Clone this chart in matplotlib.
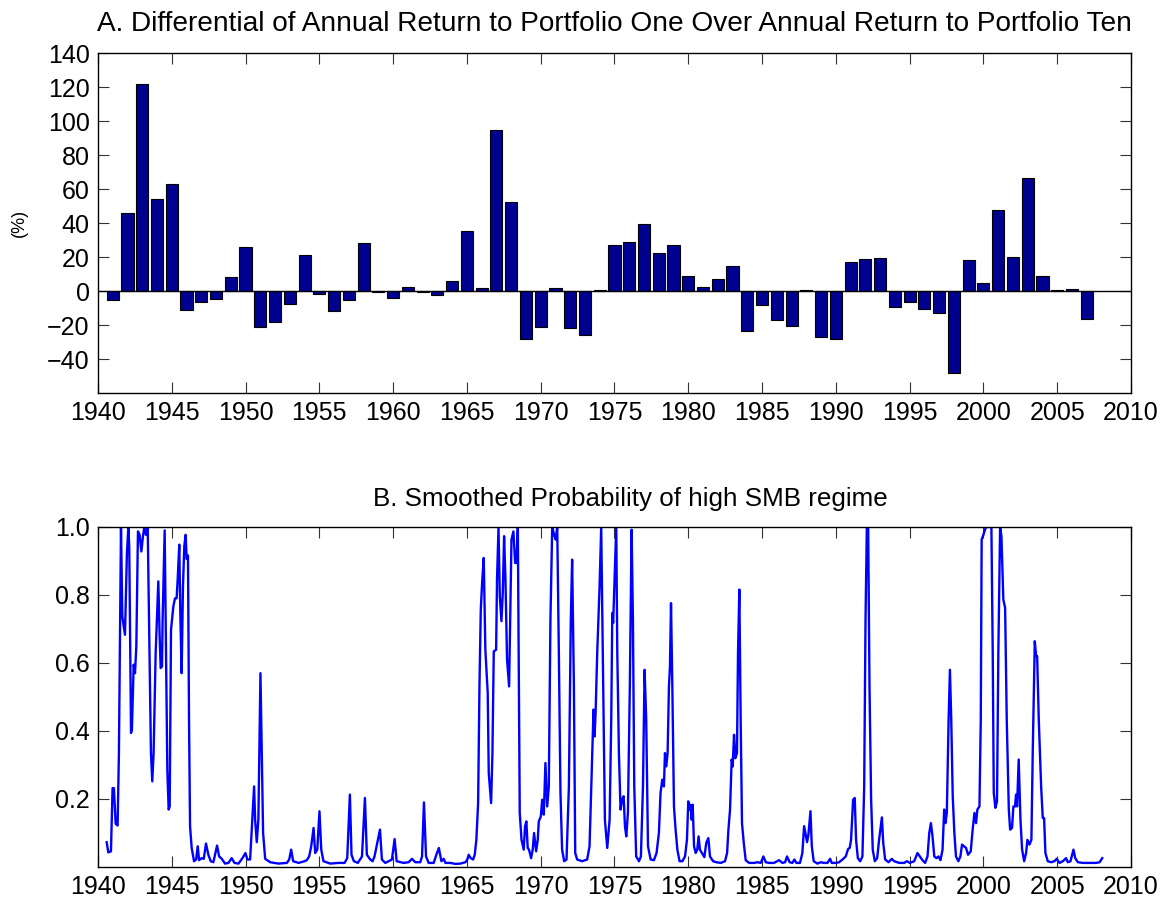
import matplotlib
matplotlib.use("Agg")
import matplotlib.pyplot as plt
import numpy as np

plt.rcParams['font.family'] = ['Liberation Sans', 'DejaVu Sans']

# panel A: yearly return differential, portfolio one minus portfolio ten (%)
years = np.arange(1941, 2008)
diff = [-5, 46, 121.5, 54, 63, -11, -6.5, -4.5, 8.5, 26,
        -21, -18, -7.5, 21, -1.5, -11.5, -5.5, 28.5, -0.8, -4,
        2.2, -0.8, -2.5, 6, 35.5, 2, 95, 52.5, -28, -21,
        2, -22, -26, 0.8, 27.3, 28.6, 39.5, 22.5, 27.3, 8.8,
        2.5, 7.3, 15, -23.5, -8.5, -17, -20.3, 0.8, -27.2, -28,
        17.3, 18.6, 19.2, -9.2, -6.7, -10.4, -13, -48.5, 18.2, 4.7,
        47.5, 20.2, 66.3, 9, 0.6, 1, -16.6]

# panel B: smoothed probability of the high SMB regime
prob_t = [1940.59, 1940.70, 1940.88, 1940.99, 1941.08, 1941.20, 1941.33, 1941.42, 1941.56, 1941.65,
          1941.83, 1941.96, 1942.06, 1942.12, 1942.24, 1942.30, 1942.42, 1942.51, 1942.60, 1942.71,
          1942.82, 1942.94, 1943.05, 1943.14, 1943.25, 1943.37, 1943.46, 1943.59, 1943.68, 1943.77,
          1943.91, 1944.09, 1944.18, 1944.25, 1944.34, 1944.38, 1944.52, 1944.61, 1944.70, 1944.79,
          1944.86, 1944.95, 1945.11, 1945.22, 1945.33, 1945.40, 1945.51, 1945.58, 1945.67, 1945.76,
          1945.85, 1945.94, 1946.01, 1946.10, 1946.17, 1946.24, 1946.35, 1946.51, 1946.65, 1946.76,
          1946.85, 1947.03, 1947.17, 1947.32, 1947.48, 1947.64, 1947.82, 1948.07, 1948.21, 1948.39,
          1948.61, 1948.84, 1949.06, 1949.25, 1949.52, 1949.79, 1949.99, 1950.13, 1950.31, 1950.42,
          1950.58, 1950.65, 1950.76, 1950.87, 1951.01, 1951.10, 1951.19, 1951.33, 1951.67, 1952.23,
          1952.80, 1952.96, 1953.09, 1953.23, 1953.59, 1954.00, 1954.15, 1954.31, 1954.45, 1954.61,
          1954.72, 1954.86, 1955.01, 1955.13, 1955.28, 1955.74, 1956.30, 1956.71, 1956.89, 1957.07,
          1957.18, 1957.34, 1957.61, 1957.89, 1958.09, 1958.22, 1958.45, 1958.61, 1958.74, 1959.11,
          1959.24, 1959.47, 1959.92, 1960.10, 1960.24, 1960.71, 1961.05, 1961.28, 1961.50, 1961.84,
          1961.96, 1962.09, 1962.23, 1962.41, 1962.75, 1962.93, 1963.10, 1963.27, 1963.43, 1963.54,
          1963.88, 1964.22, 1964.56, 1964.90, 1965.03, 1965.12, 1965.26, 1965.42, 1965.53, 1965.64,
          1965.76, 1965.85, 1965.94, 1966.03, 1966.14, 1966.25, 1966.41, 1966.48, 1966.64, 1966.73,
          1966.82, 1966.98, 1967.04, 1967.14, 1967.23, 1967.34, 1967.43, 1967.52, 1967.61, 1967.72,
          1967.86, 1967.95, 1968.02, 1968.15, 1968.27, 1968.36, 1968.45, 1968.51, 1968.58, 1968.70,
          1968.85, 1968.94, 1969.03, 1969.12, 1969.21, 1969.35, 1969.46, 1969.55, 1969.69, 1969.80,
          1969.87, 1970.01, 1970.10, 1970.21, 1970.32, 1970.44, 1970.55, 1970.66, 1970.78, 1970.91,
          1971.02, 1971.12, 1971.23, 1971.34, 1971.45, 1971.59, 1971.75, 1971.91, 1972.04, 1972.13,
          1972.25, 1972.34, 1972.47, 1972.81, 1973.15, 1973.31, 1973.44, 1973.58, 1973.65, 1973.72,
          1973.83, 1973.99, 1974.10, 1974.21, 1974.35, 1974.51, 1974.67, 1974.78, 1974.85, 1974.91,
          1975.03, 1975.12, 1975.19, 1975.30, 1975.41, 1975.52, 1975.62, 1975.71, 1975.80, 1975.91,
          1976.04, 1976.16, 1976.25, 1976.34, 1976.47, 1976.66, 1976.79, 1976.93, 1977.04, 1977.15,
          1977.27, 1977.45, 1977.67, 1977.85, 1978.01, 1978.12, 1978.24, 1978.35, 1978.42, 1978.51,
          1978.60, 1978.69, 1978.76, 1978.83, 1978.92, 1979.03, 1979.14, 1979.26, 1979.41, 1979.60,
          1979.78, 1979.91, 1980.00, 1980.09, 1980.16, 1980.23, 1980.30, 1980.39, 1980.50, 1980.61,
          1980.70, 1980.79, 1980.93, 1981.09, 1981.22, 1981.36, 1981.47, 1981.68, 1981.90, 1982.20,
          1982.49, 1982.63, 1982.72, 1982.83, 1982.94, 1983.01, 1983.10, 1983.19, 1983.30, 1983.37,
          1983.46, 1983.55, 1983.64, 1983.76, 1983.89, 1984.12, 1984.46, 1984.68, 1984.91, 1985.09,
          1985.25, 1985.47, 1985.81, 1986.15, 1986.38, 1986.56, 1986.69, 1986.87, 1987.05, 1987.19,
          1987.33, 1987.57, 1987.73, 1987.85, 1987.96, 1988.05, 1988.14, 1988.28, 1988.37, 1988.50,
          1988.75, 1988.98, 1989.20, 1989.43, 1989.61, 1989.72, 1990.00, 1990.22, 1990.45, 1990.67,
          1990.83, 1990.94, 1991.03, 1991.17, 1991.28, 1991.37, 1991.49, 1991.65, 1991.80, 1991.92,
          1992.01, 1992.10, 1992.19, 1992.28, 1992.39, 1992.50, 1992.64, 1992.80, 1992.93, 1993.12,
          1993.21, 1993.34, 1993.57, 1993.79, 1993.95, 1994.29, 1994.63, 1994.81, 1995.01, 1995.31,
          1995.53, 1995.69, 1995.87, 1996.05, 1996.21, 1996.33, 1996.44, 1996.55, 1996.67, 1996.82,
          1996.96, 1997.09, 1997.23, 1997.34, 1997.43, 1997.52, 1997.64, 1997.73, 1997.82, 1997.92,
          1998.03, 1998.14, 1998.30, 1998.44, 1998.55, 1998.69, 1998.82, 1998.96, 1999.14, 1999.27,
          1999.39, 1999.50, 1999.59, 1999.73, 1999.82, 1999.88, 2000.00, 2000.09, 2000.18, 2000.40,
          2000.54, 2000.63, 2000.70, 2000.81, 2000.92, 2001.01, 2001.13, 2001.22, 2001.35, 2001.47,
          2001.58, 2001.72, 2001.81, 2001.94, 2002.03, 2002.14, 2002.21, 2002.28, 2002.39, 2002.51,
          2002.62, 2002.76, 2002.89, 2002.98, 2003.12, 2003.25, 2003.34, 2003.48, 2003.57, 2003.64,
          2003.75, 2003.91, 2004.02, 2004.11, 2004.20, 2004.36, 2004.59, 2004.81, 2004.97, 2005.15,
          2005.38, 2005.60, 2005.72, 2005.90, 2006.10, 2006.22, 2006.40, 2006.74, 2007.19, 2007.64,
          2007.87, 2008.05]
prob_v = [0.073, 0.043, 0.046, 0.232, 0.232, 0.127, 0.122, 0.335, 1.0, 0.737,
          0.683, 0.92, 1.0, 0.94, 0.394, 0.404, 0.595, 0.57, 0.65, 0.987,
          0.977, 0.928, 0.973, 1.0, 0.977, 1.0, 0.727, 0.335, 0.252, 0.335,
          0.63, 0.84, 0.678, 0.585, 0.59, 0.727, 0.99, 0.63, 0.286, 0.169,
          0.178, 0.698, 0.767, 0.79, 0.79, 0.845, 0.948, 0.747, 0.57, 0.825,
          0.943, 0.977, 0.906, 0.916, 0.433, 0.12, 0.056, 0.017, 0.022, 0.061,
          0.02, 0.026, 0.024, 0.069, 0.036, 0.017, 0.014, 0.063, 0.031, 0.024,
          0.01, 0.012, 0.026, 0.012, 0.01, 0.026, 0.041, 0.022, 0.022, 0.11,
          0.237, 0.139, 0.073, 0.139, 0.57, 0.335, 0.10, 0.024, 0.014, 0.01,
          0.012, 0.022, 0.051, 0.017, 0.012, 0.017, 0.02, 0.031, 0.061, 0.115,
          0.041, 0.051, 0.164, 0.051, 0.017, 0.01, 0.012, 0.012, 0.026, 0.213,
          0.036, 0.017, 0.012, 0.031, 0.203, 0.036, 0.022, 0.017, 0.031, 0.11,
          0.022, 0.012, 0.022, 0.082, 0.017, 0.012, 0.014, 0.024, 0.014, 0.014,
          0.031, 0.19, 0.031, 0.012, 0.012, 0.036, 0.056, 0.017, 0.024, 0.012,
          0.012, 0.009, 0.01, 0.014, 0.022, 0.036, 0.026, 0.022, 0.036, 0.08,
          0.188, 0.531, 0.757, 0.835, 0.909, 0.639, 0.512, 0.276, 0.188, 0.335,
          0.634, 0.639, 0.845, 0.997, 0.796, 0.723, 0.806, 0.973, 0.85, 0.61,
          0.531, 0.776, 0.963, 0.987, 0.894, 0.894, 1.0, 0.63, 0.159, 0.08,
          0.051, 0.12, 0.134, 0.056, 0.051, 0.026, 0.051, 0.10, 0.046, 0.08,
          0.134, 0.149, 0.198, 0.154, 0.306, 0.178, 0.237, 0.727, 1.0, 0.977,
          0.963, 1.0, 0.63, 0.218, 0.051, 0.017, 0.022, 0.237, 0.727, 0.904,
          0.531, 0.041, 0.022, 0.017, 0.022, 0.061, 0.257, 0.463, 0.384, 0.453,
          0.63, 0.825, 1.0, 0.63, 0.139, 0.056, 0.139, 0.433, 0.747, 0.718,
          0.875, 1.0, 0.63, 0.335, 0.169, 0.198, 0.208, 0.12, 0.09, 0.159,
          0.531, 0.992, 0.727, 0.237, 0.031, 0.017, 0.031, 0.237, 0.58, 0.433,
          0.061, 0.022, 0.02, 0.041, 0.10, 0.218, 0.257, 0.237, 0.335, 0.296,
          0.335, 0.531, 0.59, 0.776, 0.531, 0.178, 0.11, 0.051, 0.017, 0.017,
          0.031, 0.08, 0.193, 0.169, 0.183, 0.139, 0.183, 0.061, 0.041, 0.051,
          0.09, 0.051, 0.041, 0.029, 0.071, 0.085, 0.031, 0.017, 0.014, 0.012,
          0.017, 0.041, 0.11, 0.169, 0.316, 0.296, 0.389, 0.32, 0.335, 0.63,
          0.816, 0.433, 0.129, 0.071, 0.02, 0.012, 0.012, 0.014, 0.012, 0.031,
          0.014, 0.012, 0.012, 0.02, 0.012, 0.014, 0.031, 0.014, 0.012, 0.022,
          0.012, 0.012, 0.041, 0.12, 0.095, 0.073, 0.095, 0.164, 0.061, 0.017,
          0.01, 0.014, 0.012, 0.012, 0.024, 0.012, 0.012, 0.014, 0.022, 0.031,
          0.053, 0.056, 0.08, 0.198, 0.203, 0.08, 0.026, 0.017, 0.031, 0.237,
          0.727, 1.0, 1.0, 0.531, 0.198, 0.051, 0.017, 0.026, 0.08, 0.146,
          0.071, 0.022, 0.014, 0.024, 0.017, 0.012, 0.012, 0.017, 0.012, 0.017,
          0.041, 0.031, 0.02, 0.012, 0.031, 0.10, 0.129, 0.09, 0.031, 0.026,
          0.031, 0.02, 0.051, 0.169, 0.129, 0.159, 0.433, 0.58, 0.433, 0.208,
          0.10, 0.031, 0.017, 0.031, 0.066, 0.061, 0.056, 0.036, 0.046, 0.11,
          0.159, 0.129, 0.169, 0.178, 0.433, 0.963, 0.977, 0.99, 1.0, 1.0,
          1.0, 0.63, 0.218, 0.174, 0.193, 0.63, 1.0, 0.973, 0.786, 0.762,
          0.433, 0.169, 0.11, 0.115, 0.178, 0.178, 0.213, 0.178, 0.316, 0.139,
          0.051, 0.017, 0.041, 0.08, 0.066, 0.08, 0.335, 0.664, 0.62, 0.62,
          0.433, 0.237, 0.144, 0.144, 0.041, 0.017, 0.014, 0.017, 0.024, 0.012,
          0.017, 0.026, 0.014, 0.017, 0.051, 0.026, 0.014, 0.012, 0.012, 0.012,
          0.014, 0.026]

xticks = np.arange(1940, 2011, 5)

fig = plt.figure(figsize=(11.69, 9.05), dpi=100)
ax1 = fig.add_axes([0.0838, 0.5657, 0.8837, 0.3757])
ax2 = fig.add_axes([0.0838, 0.0420, 0.8837, 0.3757])

ax1.bar(years, diff, width=0.82, color='#000090', edgecolor='black', linewidth=0.8, zorder=2)
ax1.axhline(0, color='black', linewidth=1.0, zorder=3)
ax1.set_xlim(1940, 2010)
ax1.set_ylim(-60, 140)
ax1.set_yticks(np.arange(-40, 141, 20))
ax1.set_ylabel('(%)', fontsize=13, labelpad=14)
ax1.set_title('A. Differential of Annual Return to Portfolio One Over Annual Return to Portfolio Ten',
              fontsize=20.2, pad=16)

ax2.plot(prob_t, prob_v, color='#0000FF', linewidth=1.7)
ax2.set_xlim(1940, 2010)
ax2.set_ylim(0, 1)
ax2.set_yticks([0.2, 0.4, 0.6, 0.8, 1.0])
ax2.set_yticklabels(['0.2', '0.4', '0.6', '0.8', '1.0'])
ax2.set_title('B. Smoothed Probability of high SMB regime', fontsize=18.7, pad=15, x=0.515)

for ax in (ax1, ax2):
    ax.set_xticks(xticks)
    ax.tick_params(direction='in', length=8, width=0.8, top=True, right=True,
                   labelsize=18, colors='#333333', labelcolor='black', pad=6)
    for s in ax.spines.values():
        s.set_linewidth(1.0)

fig.savefig('out.png', dpi=100)
